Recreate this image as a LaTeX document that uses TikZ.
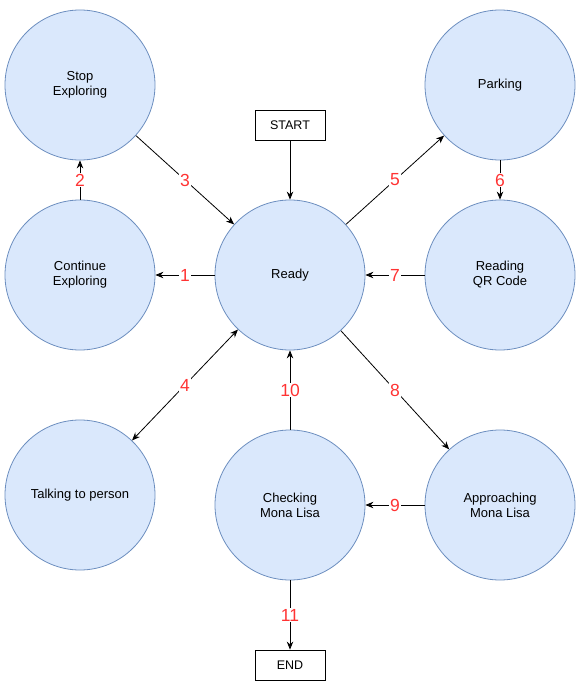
\documentclass[tikz,border=0pt]{standalone}
\usepackage{fontspec}
\setmainfont{Liberation Sans}
\usetikzlibrary{arrows.meta}
\definecolor{cfill}{HTML}{DAE8FC}
\definecolor{cdraw}{HTML}{6C8EBF}
\definecolor{lred}{HTML}{FF3333}
\begin{document}
\begin{tikzpicture}[x=1pt,y=-1pt,
  state/.style={circle,draw=cdraw,fill=cfill,line width=0.8pt,minimum size=150pt,inner sep=0pt,align=center,font=\fontsize{13}{15}\selectfont},
  term/.style={draw=black,line width=0.8pt,minimum width=70pt,minimum height=30pt,inner sep=0pt,font=\fontsize{12.5}{14.5}\selectfont},
  arr/.style={line width=0.8pt,-{Stealth[length=8pt,width=6.5pt]}},
  darr/.style={line width=0.8pt,{Stealth[length=8pt,width=6.5pt]}-{Stealth[length=8pt,width=6.5pt]}},
  lab/.style={fill=white,text=lred,inner sep=1pt,font=\fontsize{17.5}{17.5}\selectfont}]
\useasboundingbox (0,0) rectangle (585,687);
\node[state] (stop) at (80,85) {Stop\\Exploring};
\node[state] (cont) at (80,275) {Continue\\Exploring};
\node[state] (talk) at (80,495) {Talking to person};
\node[state] (ready) at (290,275) {Ready};
\node[state] (check) at (290,505) {Checking\\Mona Lisa};
\node[state] (park) at (500,85) {Parking};
\node[state] (qr) at (500,275) {Reading\\QR Code};
\node[state] (appr) at (500,505) {Approaching\\Mona Lisa};
\node[term] (start) at (290,125) {START};
\node[term] (end) at (290,665) {END};
\draw[arr] (start) -- (ready);
\draw[arr] (ready) -- node[lab]{1} (cont);
\draw[arr] (cont) -- node[lab]{2} (stop);
\draw[arr] (stop) -- node[lab]{3} (ready);
\draw[darr] (ready) -- node[lab]{4} (talk);
\draw[arr] (ready) -- node[lab]{5} (park);
\draw[arr] (park) -- node[lab]{6} (qr);
\draw[arr] (qr) -- node[lab]{7} (ready);
\draw[arr] (ready) -- node[lab]{8} (appr);
\draw[arr] (appr) -- node[lab]{9} (check);
\draw[arr] (check) -- node[lab]{10} (ready);
\draw[arr] (check) -- node[lab]{11} (end);
\end{tikzpicture}
\end{document}
